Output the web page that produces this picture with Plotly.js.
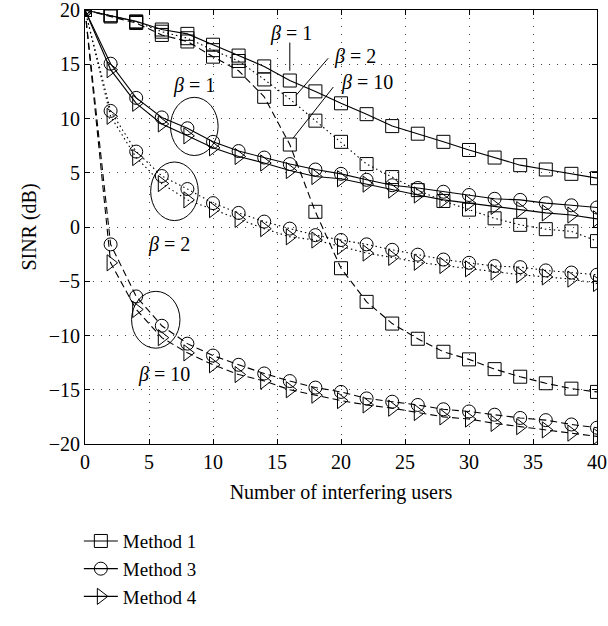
<!DOCTYPE html>
<html>
<head>
<meta charset="utf-8">
<script src="https://cdn.plot.ly/plotly-3.0.1.min.js"></script>
<style>
  html, body { margin: 0; padding: 0; background: #fff; }
  #chart { width: 608px; height: 626px; }
</style>
</head>
<body>
<div id="chart"></div>
<script>
// Number of interfering users
const users = [0, 2, 4, 6, 8, 10, 12, 14, 16, 18, 20, 22, 24, 26, 28, 30, 32, 34, 36, 38, 40];

// SINR (dB), beta = 1 (solid)
const method1_beta1 = [20, 19.5, 18.95, 18.2, 17.8, 16.8, 15.8, 14.8, 13.5, 12.5, 11.4, 10.4, 9.3, 8.6, 7.85, 7.1, 6.4, 5.7, 5.3, 4.9, 4.5];
const method3_beta1 = [20, 15.05, 11.9, 10.1, 9.1, 7.85, 7.0, 6.4, 5.8, 5.3, 4.9, 4.35, 3.85, 3.6, 3.25, 2.95, 2.6, 2.5, 2.2, 2.0, 1.8];
const method4_beta1 = [20, 14.5, 11.4, 9.5, 8.4, 7.3, 6.5, 5.9, 5.2, 4.65, 4.45, 3.95, 3.4, 2.95, 2.5, 2.2, 1.9, 1.6, 1.3, 1.1, 0.75];

// SINR (dB), beta = 2 (dotted)
const method1_beta2 = [20, 19.5, 18.9, 18.0, 17.4, 16.3, 15.3, 13.6, 11.8, 9.8, 7.85, 5.8, 4.6, 3.4, 2.4, 1.6, 0.8, 0.2, -0.2, -0.4, -1.3];
const method3_beta2 = [20, 10.7, 6.95, 4.7, 3.5, 2.2, 1.3, 0.5, -0.15, -0.75, -1.2, -1.6, -2.1, -2.55, -3.0, -3.3, -3.6, -3.7, -4.0, -4.2, -4.4];
const method4_beta2 = [20, 10.2, 6.4, 4.0, 2.5, 1.6, 0.7, -0.15, -0.9, -1.2, -1.8, -2.4, -2.8, -3.25, -3.55, -3.85, -4.15, -4.4, -4.6, -4.8, -5.2];

// SINR (dB), beta = 10 (dashed)
const method1_beta10 = [20, 19.4, 18.8, 17.7, 17.1, 15.7, 14.4, 12.0, 7.6, 1.4, -3.8, -6.9, -8.9, -10.3, -11.5, -12.2, -13.1, -13.8, -14.4, -14.9, -15.2];
const method3_beta10 = [20, -1.6, -6.4, -9.1, -10.75, -11.85, -12.7, -13.5, -14.2, -14.8, -15.2, -15.8, -16.1, -16.4, -16.8, -17.0, -17.3, -17.6, -17.8, -18.2, -18.5];
const method4_beta10 = [20, -3.3, -7.6, -10.2, -11.6, -12.7, -13.6, -14.2, -15.0, -15.5, -16.0, -16.4, -16.7, -17.1, -17.5, -17.7, -18.1, -18.4, -18.7, -19.0, -19.3];

const methodNames = ["Method 1", "Method 3", "Method 4"];
const yTickVals = [-20, -15, -10, -5, 0, 5, 10, 15, 20];
const xTickVals = [0, 5, 10, 15, 20, 25, 30, 35, 40];

const FONT = "Liberation Serif, Times New Roman, serif";
const symbols = ["square-open", "circle-open", "triangle-right-open"];
const sizes = [13, 13, 14];
const dashes = { b1: "solid", b2: "1.5px,3px", b10: "7px,4px" };

function tr(y, m, dash, showLegend) {
  return {
    x: users, y: y, type: "scatter", mode: "lines+markers",
    name: methodNames[m], legendgroup: methodNames[m], showlegend: showLegend,
    line: { color: "#000", width: 1.1, dash: dash },
    marker: { symbol: symbols[m], size: sizes[m], color: "#000", line: { color: "#000", width: 1 } },
    hoverinfo: "skip"
  };
}

const data = [
  tr(method1_beta1, 0, dashes.b1, true),
  tr(method3_beta1, 1, dashes.b1, true),
  tr(method4_beta1, 2, dashes.b1, true),
  tr(method1_beta2, 0, dashes.b2, false),
  tr(method3_beta2, 1, dashes.b2, false),
  tr(method4_beta2, 2, dashes.b2, false),
  tr(method1_beta10, 0, dashes.b10, false),
  tr(method3_beta10, 1, dashes.b10, false),
  tr(method4_beta10, 2, dashes.b10, false)
];

const ann = (x, y, t) => ({ x: x, y: y, xref: "x", yref: "y", text: "<i>β</i> = " + t, showarrow: false, font: { family: FONT, size: 20, color: "#000" } });
const ln = (x0, y0, x1, y1) => ({ type: "line", xref: "x", yref: "y", x0: x0, y0: y0, x1: x1, y1: y1, line: { color: "#000", width: 1 } });
const ell = (x0, x1, y0, y1) => ({ type: "circle", xref: "x", yref: "y", x0: x0, x1: x1, y0: y0, y1: y1, line: { color: "#000", width: 1 } });

const axisCommon = {
  showline: true, linecolor: "#000", linewidth: 1, mirror: "ticks",
  ticks: "inside", ticklen: 5, tickcolor: "#000",
  showgrid: true, gridcolor: "#444", gridwidth: 1, griddash: "1px,7px",
  zeroline: false, ticklabeloverflow: "allow",
  tickfont: { family: FONT, size: 20, color: "#000" }
};

const layout = {
  width: 608, height: 626,
  margin: { l: 85, r: 11, t: 10, b: 166 },
  paper_bgcolor: "#fff", plot_bgcolor: "#fff",
  font: { family: FONT, size: 20, color: "#000" },
  xaxis: Object.assign({}, axisCommon, {
    range: [0, 40], tickvals: xTickVals,
    title: { text: "Number of interfering users", font: { family: FONT, size: 20 }, standoff: 12 }
  }),
  yaxis: Object.assign({}, axisCommon, {
    range: [-20, 20], tickvals: yTickVals,
    title: { text: "SINR (dB)", font: { family: FONT, size: 20 }, standoff: 6 }
  }),
  showlegend: true,
  legend: {
    x: -0.012, xanchor: "left", y: -0.18, yanchor: "top",
    bgcolor: "rgba(0,0,0,0)", borderwidth: 0,
    font: { family: FONT, size: 19, color: "#000" },
    itemwidth: 34, tracegroupgap: 0
  },
  annotations: [
    ann(16.1, 17.8, "1"), ann(21.1, 15.7, "2"), ann(22.0, 13.3, "10"),
    ann(8.5, 13.0, "1"), ann(6.6, -1.6, "2"), ann(6.2, -13.6, "10")
  ],
  shapes: [
    ln(16, 17.0, 16, 14.4),
    ln(19.0, 15.55, 16.5, 12.15),
    ln(19.4, 12.9, 16.25, 8.18),
    ell(6.68, 10.4, 6.59, 11.95),
    ell(5.13, 8.85, 0.59, 5.99),
    ell(3.64, 7.42, -11.17, -5.93)
  ]
};

Plotly.newPlot("chart", data, layout, { displayModeBar: false, staticPlot: true });
</script>
</body>
</html>
